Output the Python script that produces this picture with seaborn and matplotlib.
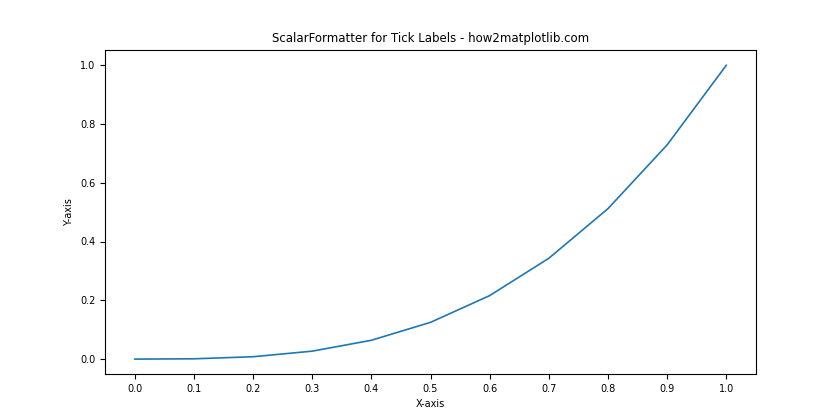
import matplotlib
matplotlib.use("Agg")
import matplotlib.pyplot as plt
import seaborn as sns
import pandas as pd

x_vals = [0.0, 0.1, 0.2, 0.3, 0.4, 0.5, 0.6, 0.7, 0.8, 0.9, 1.0]
y_vals = [0.0, 0.001, 0.008, 0.027, 0.064, 0.125, 0.216, 0.343, 0.512, 0.729, 1.0]
x_ticks = [0.0, 0.1, 0.2, 0.3, 0.4, 0.5, 0.6, 0.7, 0.8, 0.9, 1.0]

sns.set_style("ticks")
plt.rcParams['font.family'] = ['DejaVu Sans']
plt.rcParams['font.size'] = 7
for k in ['text.color', 'axes.labelcolor', 'xtick.color', 'ytick.color']:
    plt.rcParams[k] = 'black'

df = pd.DataFrame({"x": x_vals, "y": y_vals})
fig, ax = plt.subplots(figsize=(8.4, 4.2), dpi=100)
fig.subplots_adjust(left=0.125, right=0.9, bottom=0.11, top=0.88)
sns.lineplot(data=df, x="x", y="y", ax=ax, color="#1f77b4", linewidth=1.2)
ax.set_xticks(x_ticks)
ax.set_xticklabels([f"{t:.1f}" for t in x_ticks])
ax.set_title("ScalarFormatter for Tick Labels - how2matplotlib.com", fontsize=8.5, color="black")
ax.set_xlabel("X-axis")
ax.set_ylabel("Y-axis")
for s in ax.spines.values():
    s.set_visible(True)
    s.set_linewidth(0.8)
    s.set_color("black")
ax.tick_params(labelsize=7, length=3.5, width=0.8, colors="black")
fig.savefig("out.png", dpi=100)
